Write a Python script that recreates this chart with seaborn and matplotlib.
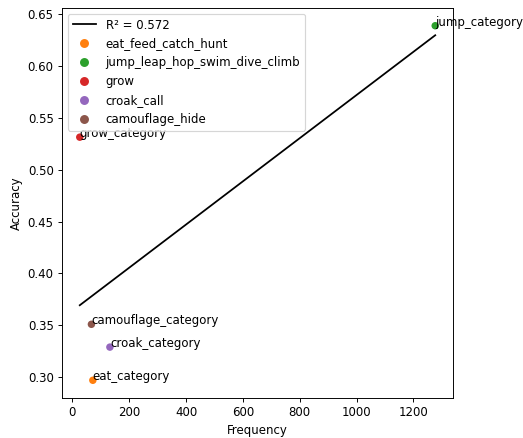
import numpy as np
import pandas as pd
import matplotlib
matplotlib.use("Agg")
import matplotlib.pyplot as plt
import seaborn as sns

# Category data: frequency vs. accuracy
groups = ["eat_feed_catch_hunt", "jump_leap_hop_swim_dive_climb", "grow",
          "croak_call", "camouflage_hide"]
point_labels = ["eat_category", "jump_category", "grow_category",
                "croak_category", "camouflage_category"]
frequency = [72, 1277, 26, 132, 67]
accuracy = [0.297, 0.639, 0.5315, 0.329, 0.351]
colors = ["tab:orange", "tab:green", "tab:red", "tab:purple", "tab:brown"]

df = pd.DataFrame({"Frequency": frequency, "Accuracy": accuracy, "group": groups})

# Least-squares fit and R^2
x = np.array(frequency, dtype=float)
y = np.array(accuracy, dtype=float)
slope, intercept = np.polyfit(x, y, 1)
pred = slope * x + intercept
r2 = 1 - np.sum((y - pred) ** 2) / np.sum((y - y.mean()) ** 2)
fit_df = pd.DataFrame({"Frequency": x, "Accuracy": pred}).sort_values("Frequency")

W, H, DPI = 523, 438, 85
fig = plt.figure(figsize=(W / DPI, H / DPI), dpi=DPI)
ax = fig.add_axes([62 / W, 1 - 398 / H, 391 / W, 390 / H])

sns.lineplot(data=fit_df, x="Frequency", y="Accuracy", color="black",
             label=f"R\u00b2 = {r2:.3f}", ax=ax, estimator=None, sort=True)
sns.scatterplot(data=df, x="Frequency", y="Accuracy", hue="group",
                palette=colors, hue_order=groups, s=40, linewidth=0, ax=ax)

for fx, fy, lab in zip(frequency, accuracy, point_labels):
    ax.text(fx, fy, lab, fontsize=10)

ax.legend(loc="upper left", markerscale=1.2)
ax.set_xlabel("Frequency")
ax.set_ylabel("Accuracy")

fig.savefig("out.png", dpi=DPI)
